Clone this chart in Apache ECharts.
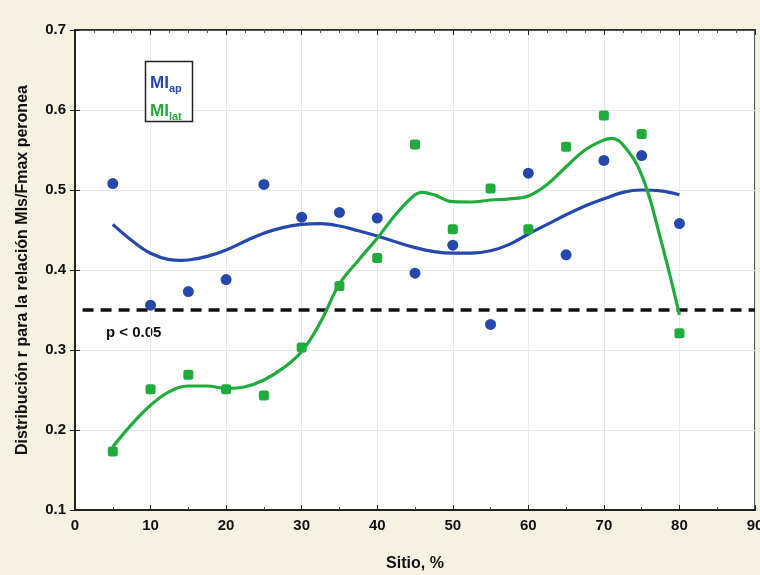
<!DOCTYPE html>
<html><head><meta charset="utf-8">
<script src="https://cdn.jsdelivr.net/npm/echarts@6/dist/echarts.min.js"></script>
<style>html,body{margin:0;padding:0;background:#f6f2e2;}#c{width:760px;height:575px;}</style>
</head><body><div id="c"></div>
<script>
// Site (%) for the measured points
const sites = [5,10,15,20,25,30,35,40,45,50,55,60,65,70,75,80];
// MI_ap points
const miAp = [0.508,0.356,0.373,0.388,0.507,0.466,0.472,0.465,0.396,0.431,0.332,0.521,0.419,0.537,0.543,0.458];
// MI_lat points
const miLat = [0.173,0.251,0.269,0.251,0.243,0.303,0.380,0.415,0.557,0.451,0.502,0.451,0.554,0.593,0.570,0.321];
// Fitted curve
const fitApX = [5,7.5,10,12.5,14,15,17.5,20,22.5,25,27.5,30,32.5,35,37.5,40,42.5,45,47.5,50,52.5,55,57.5,60,62.5,65,67.5,70,72.5,75,77.5,80];
const fitApY = [0.457,0.437,0.421,0.413,0.412,0.4125,0.417,0.425,0.436,0.446,0.453,0.457,0.458,0.455,0.449,0.4425,0.435,0.428,0.423,0.421,0.421,0.424,0.432,0.445,0.457,0.469,0.480,0.489,0.497,0.500,0.499,0.494];
const fitLatX = [5,7.5,10,12.5,15,17.5,20,22.5,25,27.5,30,32.5,35,37.5,40,42.5,45,46,47.5,50,52.5,55,57.5,60,62.5,65,67.5,70,71,72.5,75,77.5,80];
const fitLatY = [0.179,0.207,0.231,0.248,0.255,0.255,0.252,0.254,0.2625,0.277,0.298,0.335,0.3825,0.412,0.4396,0.470,0.494,0.497,0.494,0.4854,0.485,0.4875,0.489,0.4925,0.507,0.529,0.550,0.5625,0.5646,0.557,0.519,0.439,0.344];
// significance threshold
const pLevel = 0.35;
const pLineX = [1,90];
const xTicks = [0,10,20,30,40,50,60,70,80,90];
const yTicks = [0.1,0.2,0.3,0.4,0.5,0.6,0.7];

const BLUE = '#2648ad';
const GREEN = '#1fac3c';
const FONT = 'Liberation Sans';

const chart = echarts.init(document.getElementById('c'), null, {renderer:'canvas'});
const zip = (a,b)=>a.map((v,i)=>[v,b[i]]);
const gridBox = {left:75, top:30, width:680, height:480};
const axisLabel = {color:'#111', fontFamily:FONT, fontWeight:'bold', fontSize:15};
chart.setOption({
  backgroundColor:'#f6f2e2',
  animation:false,
  grid:Object.assign({show:true, backgroundColor:'#ffffff', borderColor:'#222', borderWidth:1.5, containLabel:false, outerBoundsMode:'none'}, gridBox),
  xAxis:[{
    type:'value', min:xTicks[0], max:xTicks[xTicks.length-1], interval:10,
    name:'Sitio, %', nameLocation:'middle', nameGap:46,
    nameTextStyle:{color:'#111', fontFamily:FONT, fontWeight:'bold', fontSize:16},
    axisLine:{show:true, onZero:false, lineStyle:{color:'#222', width:2}},
    axisTick:{show:true, inside:true, length:5, lineStyle:{color:'#222'}},
    minorTick:{show:true, splitNumber:2, length:3, lineStyle:{color:'#444'}},
    axisLabel:Object.assign({margin:8}, axisLabel),
    splitLine:{show:true, lineStyle:{color:'#e8e8e8', width:1}}
  },{
    type:'value', position:'top', min:0, max:90, interval:10,
    axisLine:{show:true, lineStyle:{color:'#222', width:1.5}},
    axisTick:{show:true, inside:true, length:5, lineStyle:{color:'#222'}},
    minorTick:{show:true, splitNumber:4, length:3, lineStyle:{color:'#555'}},
    axisLabel:{show:false}, splitLine:{show:false}
  }],
  yAxis:[{
    type:'value', min:yTicks[0], max:yTicks[yTicks.length-1], interval:0.1,
    name:'Distribución r para la relación MIs/Fmax peronea', nameLocation:'middle', nameGap:44,
    nameTextStyle:{color:'#111', fontFamily:FONT, fontWeight:'bold', fontSize:16},
    axisLine:{show:true, onZero:false, lineStyle:{color:'#222', width:2}},
    axisTick:{show:true, inside:true, length:5, lineStyle:{color:'#222'}},
    axisLabel:Object.assign({margin:9, formatter:v=>v.toFixed(1)}, axisLabel),
    splitLine:{show:true, lineStyle:{color:'#e8e8e8', width:1}}
  },{
    type:'value', position:'right', min:0.1, max:0.7, interval:0.1,
    axisLine:{show:true, lineStyle:{color:'#222', width:1.5}},
    axisTick:{show:true, inside:true, length:5, lineStyle:{color:'#222'}},
    axisLabel:{show:false}, splitLine:{show:false}
  }],
  series:[
    {type:'line', data:pLineX.map(x=>[x,pLevel]), symbol:'none', silent:true,
     lineStyle:{color:'#111', width:3.5, type:[11,7]}, z:3},
    {type:'line', data:zip(fitApX,fitApY), smooth:0.4, symbol:'none', lineStyle:{color:BLUE, width:3.2}, z:4},
    {type:'line', data:zip(fitLatX,fitLatY), smooth:0.4, symbol:'none', lineStyle:{color:GREEN, width:3.2}, z:4},
    {type:'scatter', data:zip(sites,miAp), symbol:'circle', symbolSize:11, itemStyle:{color:BLUE, opacity:1}, z:5},
    {type:'scatter', data:zip(sites,miLat), symbol:'roundRect', symbolSize:10, itemStyle:{color:GREEN, opacity:1}, z:5}
  ],
  graphic:[
    {type:'text', left:106, top:325, style:{text:'p < 0.05', fill:'#111', font:'bold 15px "Liberation Sans"'}},
    {type:'rect', shape:{x:145.5, y:61.5, width:47, height:60}, style:{fill:'#ffffff', stroke:'#222', lineWidth:1.5}, z:10},
    {type:'text', x:150, y:69, z:11, style:{
      text:'{a|MI}{s|ap}\n{b|MI}{t|lat}',
      rich:{
        a:{fill:BLUE, fontFamily:FONT, fontWeight:'bold', fontSize:17, lineHeight:28, verticalAlign:'middle'},
        s:{fill:BLUE, fontFamily:FONT, fontWeight:'bold', fontSize:11, lineHeight:28, padding:[11,0,0,0], verticalAlign:'middle'},
        b:{fill:GREEN, fontFamily:FONT, fontWeight:'bold', fontSize:17, lineHeight:28, verticalAlign:'middle'},
        t:{fill:GREEN, fontFamily:FONT, fontWeight:'bold', fontSize:11, lineHeight:28, padding:[11,0,0,0], verticalAlign:'middle'}
      }
    }}
  ]
});
</script></body></html>
